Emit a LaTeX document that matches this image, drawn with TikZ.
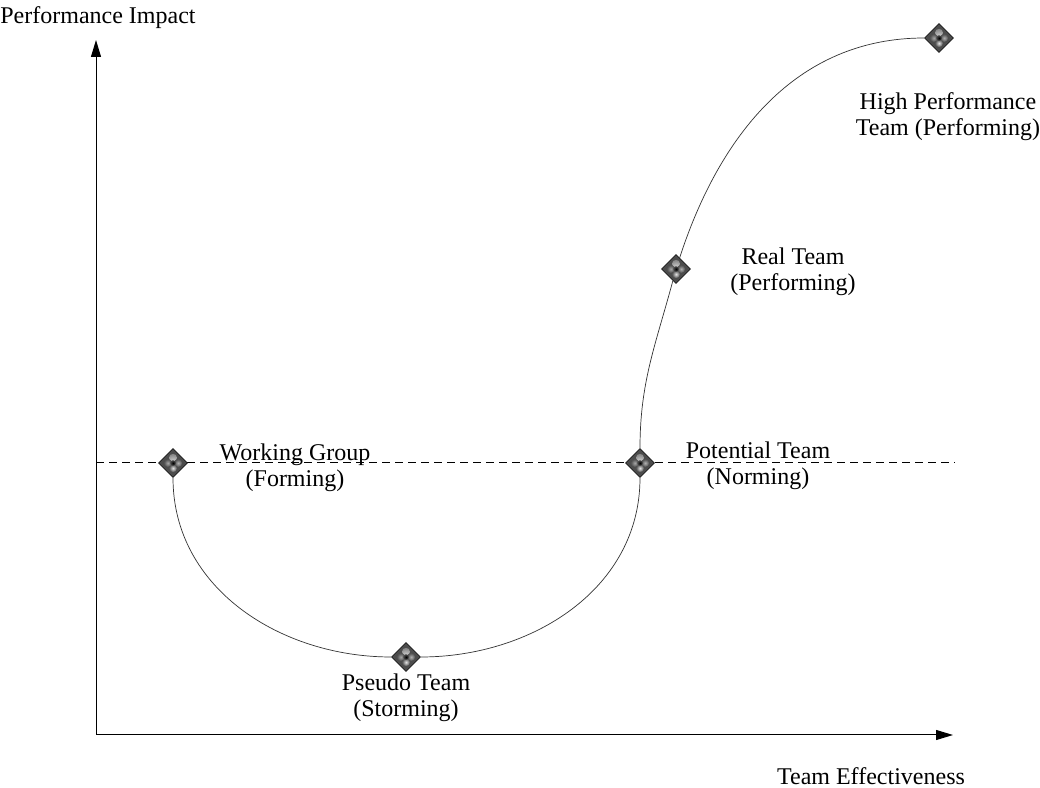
\documentclass[tikz,border=0pt]{standalone}
\usepackage{fontspec}
\setmainfont{Liberation Serif}
\usetikzlibrary{shapes.geometric,arrows.meta}

\begin{document}
\begin{tikzpicture}[x=0.5pt,y=0.5pt]
\tikzstyle{stage}=[diamond, draw=black!90, line width=0.4pt, minimum size=14.5pt, inner sep=0pt,
  fill=black!70,
  path picture={
    \foreach \a/\c in {90/black!10,0/black!30,270/black!10,180/black!35}
      \shade[inner color=\c, outer color=black!70]
        ([shift={(\a:2.6pt)}]path picture bounding box.center) circle (2pt);
    \shade[inner color=black, outer color=black!70]
      (path picture bounding box.center) circle (1.4pt);
  }]
\tikzstyle{caption}=[align=center, font=\fontsize{12}{13}\selectfont]
\tikzstyle{axis}=[line width=0.5pt, -{Triangle[length=8.5pt,width=5pt]}]
\tikzstyle{baseline}=[line width=0.5pt, dash pattern=on 4pt off 2.5pt]
\tikzstyle{curve}=[black!80, line width=0.35pt]

\useasboundingbox (0,0) rectangle (1040,788);

\coordinate (origin) at (96,53);
\coordinate (y_top) at (96,748);
\coordinate (x_end) at (953,53);
\coordinate (base_l) at (96,325);
\coordinate (base_r) at (955,325);

% axes and the dashed base level
\draw[axis] (origin) -- (y_top);
\draw[axis] (origin) -- (x_end);
\draw[baseline] (base_l) -- (base_r);

\node[stage] (forming) at (173,325) {};
\node[stage] (storming) at (406,131) {};
\node[stage] (norming) at (640,325) {};
\node[stage] (real) at (676,519) {};
\node[stage] (high) at (939,750) {};

\node[caption] (l_forming) at (295,320) {Working Group\\(Forming)};
\node[caption] (l_storming) at (406,90) {Pseudo Team\\(Storming)};
\node[caption] (l_norming) at (758,322) {Potential Team\\(Norming)};
\node[caption] (l_real) at (793,516) {Real Team\\(Performing)};
\node[caption] (l_high) at (948,671) {High Performance\\Team (Performing)};

\node[caption] (y_label) at (98,770) {Performance Impact};
\node[caption] (x_label) at (871,12) {Team Effectiveness};

% team performance curve
\draw[curve] (forming) to[out=-90,in=180] (storming);
\draw[curve] (storming) to[out=0,in=-90] (norming);
\draw[curve] (norming) to[out=90,in=-105] (real);
\draw[curve] (real) to[out=72,in=180] (high);

\end{tikzpicture}
\end{document}
